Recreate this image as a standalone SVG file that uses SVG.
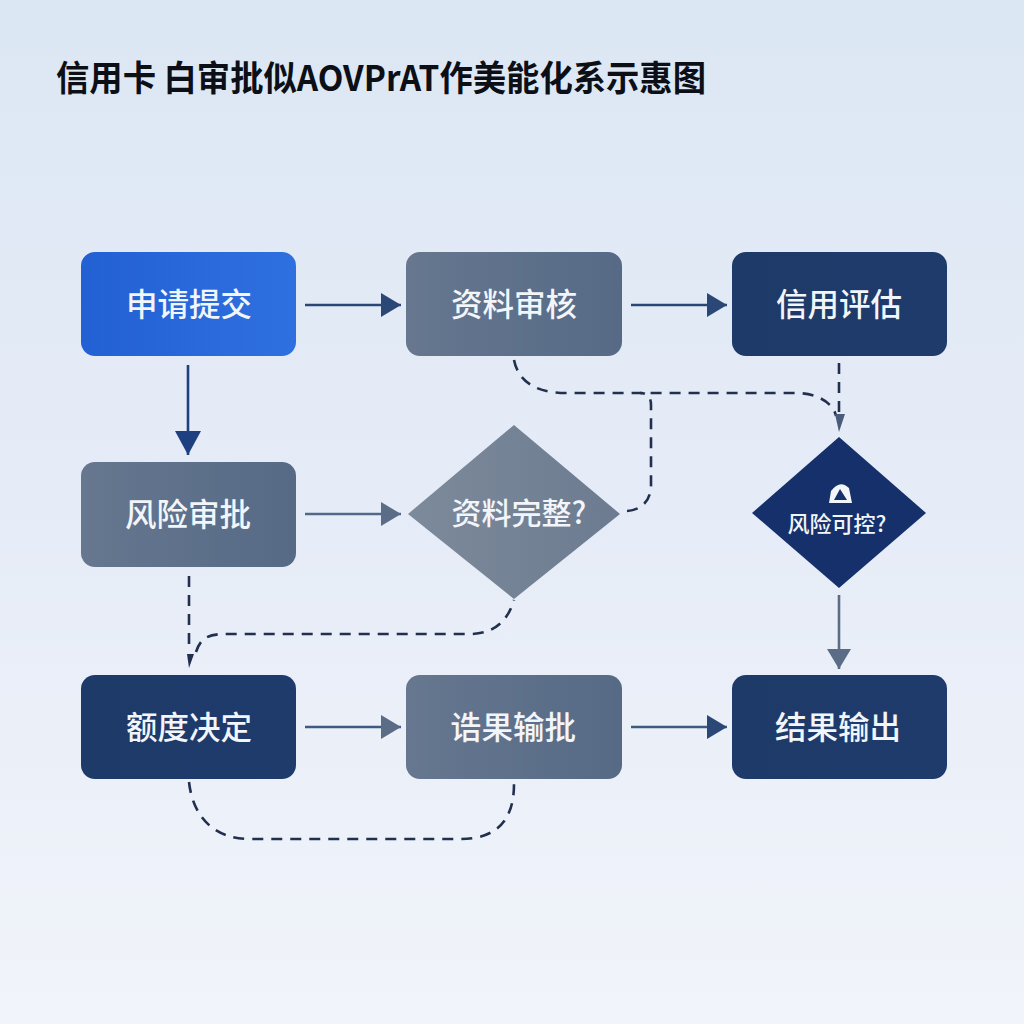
<svg xmlns="http://www.w3.org/2000/svg" width="1024" height="1024" viewBox="0 0 1024 1024">
<defs>
<linearGradient id="bg" x1="0" y1="0" x2="0" y2="1"><stop offset="0" stop-color="#dce7f4"/><stop offset="0.5" stop-color="#e6ecf7"/><stop offset="1" stop-color="#f1f4fa"/></linearGradient>
<linearGradient id="gray" x1="0" y1="0" x2="1" y2="0"><stop offset="0" stop-color="#66778f"/><stop offset="1" stop-color="#566a86"/></linearGradient>
<linearGradient id="dia" x1="0" y1="0" x2="1" y2="0"><stop offset="0" stop-color="#7d8a9b"/><stop offset="1" stop-color="#6c7b90"/></linearGradient>
<linearGradient id="navy" x1="0" y1="0" x2="1" y2="0"><stop offset="0" stop-color="#1e3a68"/><stop offset="1" stop-color="#1e3b6c"/></linearGradient>
<linearGradient id="blue" x1="0" y1="0" x2="1" y2="0"><stop offset="0" stop-color="#2260d4"/><stop offset="1" stop-color="#2f70e0"/></linearGradient>
<marker id="a1" markerUnits="userSpaceOnUse" markerWidth="20" markerHeight="24" refX="20" refY="12" orient="auto"><path d="M0 0L20 12L0 24Z" fill="#2a4775"/></marker>
<marker id="a2" markerUnits="userSpaceOnUse" markerWidth="20" markerHeight="24" refX="20" refY="12" orient="auto"><path d="M0 0L20 12L0 24Z" fill="#5a6c86"/></marker>
<marker id="a3" markerUnits="userSpaceOnUse" markerWidth="24" markerHeight="26" refX="24" refY="13" orient="auto"><path d="M0 0L24 13L0 26Z" fill="#1e4080"/></marker>
</defs>
<style>
text{font-family:"Noto Sans CJK SC","Liberation Sans",sans-serif;fill:#f2f5f9;text-anchor:middle;font-weight:500}
.lbl{font-size:31.5px}
.s{fill:none;stroke-width:2.6}
.d{fill:none;stroke:#22304f;stroke-width:2.6;stroke-dasharray:11 8}
</style>
<rect width="1024" height="1024" fill="url(#bg)"/>
<g id="title"><text x="381" y="91" font-size="35" textLength="650" lengthAdjust="spacingAndGlyphs" style="fill:#0c0f16;font-weight:700">信用卡 白审批似AOVPrAT作美能化系示惠图</text></g>
<g id="connectors">
<path class="s" d="M305 305H401" stroke="#2a4775" marker-end="url(#a1)"/>
<path class="s" d="M631 305H727" stroke="#2a4775" marker-end="url(#a1)"/>
<path class="s" d="M188 365V455" stroke="#1e4080" marker-end="url(#a3)"/>
<path class="s" d="M305 514H401" stroke="#52688a" marker-end="url(#a2)"/>
<path class="s" d="M839 595V669" stroke="#5a6c86" marker-end="url(#a2)"/>
<path class="s" d="M305 727H401" stroke="#3f5a80" marker-end="url(#a2)"/>
<path class="s" d="M631 727H727" stroke="#3f5a80" marker-end="url(#a1)"/>
<path class="d" d="M514 360C518 380 534 393 566 393H795C820 393 834 405 836 416"/>
<path class="d" d="M839 363V412"/>
<path d="M835 414L845 414L839 432Z" fill="#4a5c7c"/>
<path class="d" d="M627 511C642 510 651 500 651 485V405Q651 393 640 393"/>
<path class="d" d="M189 576V652"/>
<path d="M187 654L194 654L189 668Z" fill="#22304f"/>
<path class="d" d="M196 652C200 640 206 634 225 634H470C495 634 508 620 514 600"/>
<path class="d" d="M189 782C193 818 215 839 250 839H460C495 839 514 822 514 784"/>
</g>
<g id="n1"><rect x="81" y="252" width="215" height="104" rx="14" fill="url(#blue)"/><text class="lbl" x="189" y="316">申请提交</text></g>
<g id="n2"><rect x="406" y="252" width="216" height="104" rx="14" fill="url(#gray)"/><text class="lbl" x="514" y="316">资料审核</text></g>
<g id="n3"><rect x="732" y="252" width="215" height="104" rx="14" fill="url(#navy)"/><text class="lbl" x="839" y="316">信用评估</text></g>
<g id="n4"><rect x="81" y="462" width="215" height="105" rx="14" fill="url(#gray)"/><text class="lbl" x="188" y="526">风险审批</text></g>
<g id="n5"><path d="M514 425L620 514L514 599L408 514Z" fill="url(#dia)"/><text x="519" y="524" font-size="30">资料完整?</text></g>
<g id="n6"><path d="M839 437L926 513L839 588L752 513Z" fill="#15306b"/>
<path fill-rule="evenodd" d="M829 503L831 491Q840 479 849 488L852 503Z M834 500L840 489L847 500Z" fill="#f2f5f9"/><text x="837" y="532" font-size="22">风险可控?</text></g>
<g id="n7"><rect x="81" y="675" width="215" height="104" rx="14" fill="url(#navy)"/><text class="lbl" x="189" y="739">额度决定</text></g>
<g id="n8"><rect x="406" y="675" width="216" height="104" rx="14" fill="url(#gray)"/><text class="lbl" x="513" y="739">诰果输批</text></g>
<g id="n9"><rect x="732" y="675" width="215" height="104" rx="14" fill="url(#navy)"/><text class="lbl" x="838" y="739">结果输出</text></g>
</svg>
